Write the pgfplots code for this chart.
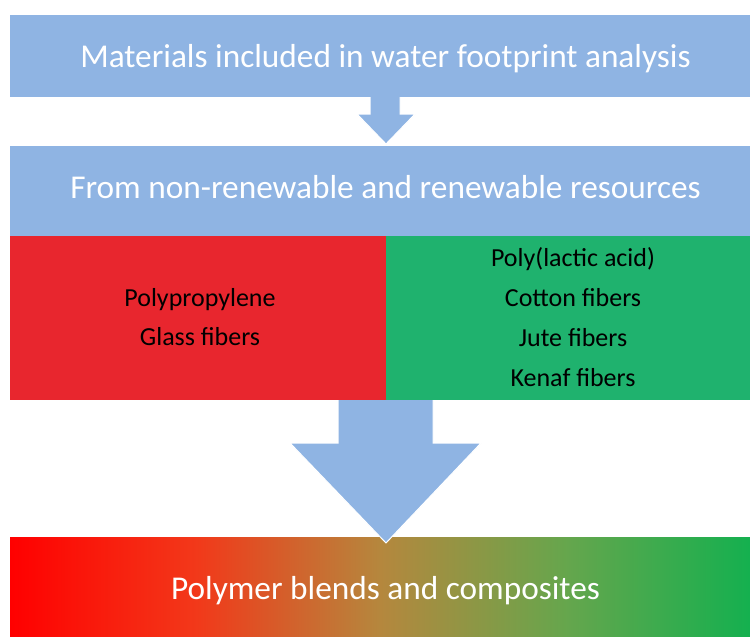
\documentclass[border=0pt]{standalone}
\usepackage{pgfplots}
\pgfplotsset{compat=1.18}
\usepackage{fontspec}
\setmainfont{Carlito}
\definecolor{boxblue}{RGB}{143,180,227}
\definecolor{boxred}{RGB}{232,38,46}
\definecolor{boxgreen}{RGB}{31,178,110}
\pgfdeclarehorizontalshading{redgreen}{100bp}{
  rgb(0bp)=(1,0,0);
  rgb(25bp)=(1,0,0);
  rgb(37.5bp)=(0.95,0.22,0.10);
  rgb(50bp)=(0.71,0.53,0.24);
  rgb(62.5bp)=(0.40,0.65,0.30);
  rgb(75bp)=(0.08,0.69,0.31);
  rgb(100bp)=(0.08,0.69,0.31)}
\begin{document}
\begin{tikzpicture}
\begin{axis}[
  width=750pt, height=637pt, scale only axis,
  xmin=0, xmax=750, ymin=0, ymax=637, y dir=reverse,
  hide axis, clip=false,
]
% background (sets the picture size)
\addplot[draw=none, fill=white] coordinates {(0,0) (750,0) (750,637) (0,637)} --cycle;
% bottom gradient box
\addplot[draw=none, shading=redgreen] coordinates {(10,537) (750,537) (750,637) (10,637)} --cycle;
% small arrow
\addplot[draw=white, line width=1pt, fill=boxblue] coordinates {(370,96) (400,96) (400,114) (415,114) (386,144) (357,114) (370,114)} --cycle;
% big arrow
\addplot[draw=white, line width=1pt, fill=boxblue] coordinates {(338,399) (433,399) (433,443) (481,443) (386,543) (290,443) (338,443)} --cycle;
% top box
\addplot[draw=none, fill=boxblue] coordinates {(10,15) (750,15) (750,97) (10,97)} --cycle;
% second box
\addplot[draw=none, fill=boxblue] coordinates {(10,146) (750,146) (750,236) (10,236)} --cycle;
% red box
\addplot[draw=none, fill=boxred] coordinates {(10,236) (386,236) (386,400) (10,400)} --cycle;
% green box
\addplot[draw=none, fill=boxgreen] coordinates {(386,236) (750,236) (750,400) (386,400)} --cycle;

\node[anchor=base, text=white, font=\fontsize{33.3}{40}\selectfont] at (axis cs:385.5,67) {Materials included in water footprint analysis};
\node[anchor=base, text=white, font=\fontsize{33.3}{40}\selectfont] at (axis cs:385.5,198) {From non-renewable and renewable resources};
\node[anchor=base, text=white, font=\fontsize{33.3}{40}\selectfont] at (axis cs:385.5,599) {Polymer blends and composites};
\node[anchor=base, text=black, font=\fontsize{26}{31}\selectfont] at (axis cs:200,306) {Polypropylene};
\node[anchor=base, text=black, font=\fontsize{26}{31}\selectfont] at (axis cs:200,345) {Glass fibers};
\node[anchor=base, text=black, font=\fontsize{26}{31}\selectfont] at (axis cs:573,266) {Poly(lactic acid)};
\node[anchor=base, text=black, font=\fontsize{26}{31}\selectfont] at (axis cs:573,306) {Cotton fibers};
\node[anchor=base, text=black, font=\fontsize{26}{31}\selectfont] at (axis cs:573,346) {Jute fibers};
\node[anchor=base, text=black, font=\fontsize{26}{31}\selectfont] at (axis cs:573,386) {Kenaf fibers};
\end{axis}
\end{tikzpicture}
\end{document}
